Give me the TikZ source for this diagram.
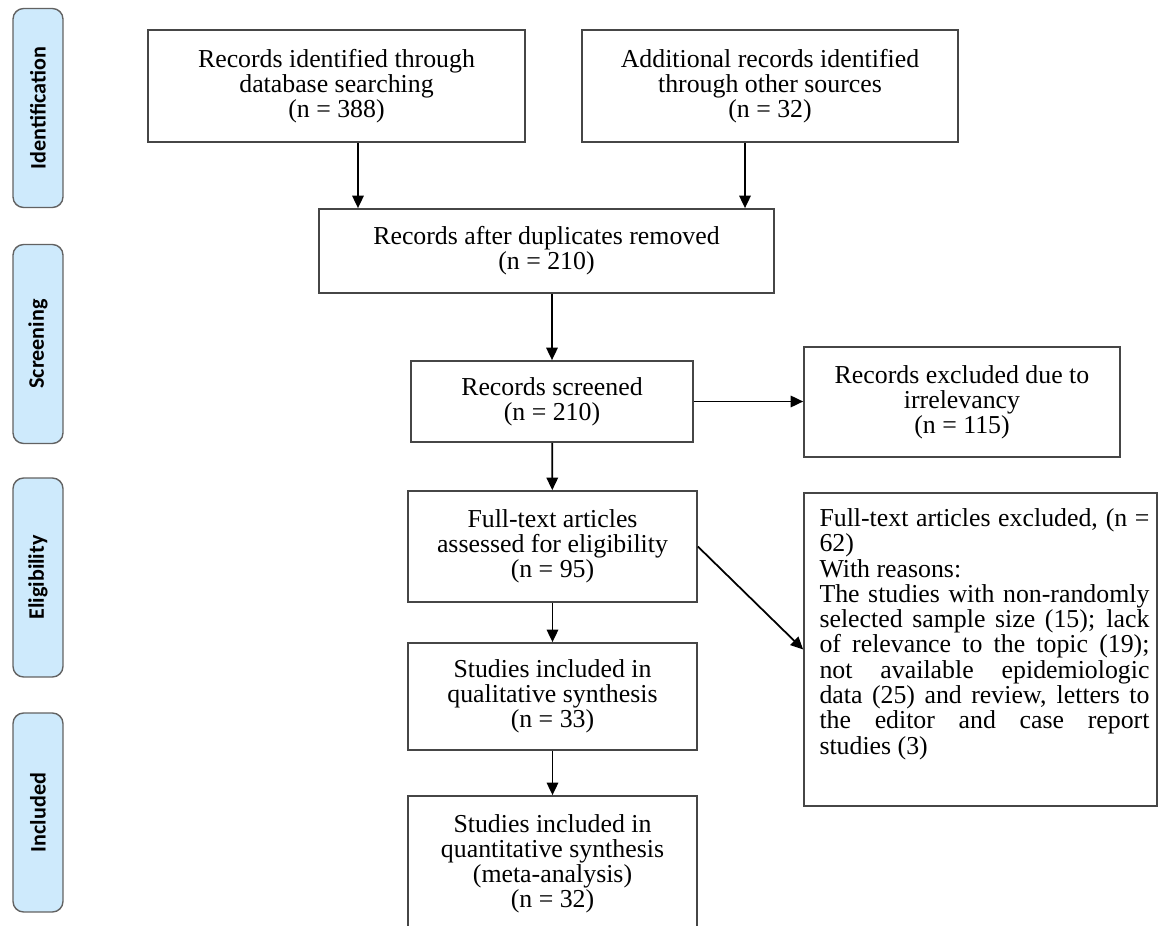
\documentclass[tikz,border=0pt]{standalone}
\usepackage{fontspec}
\setmainfont{Liberation Serif}
\newfontfamily\phasefont{Carlito}
\usetikzlibrary{arrows.meta}
\definecolor{phaseblue}{RGB}{206,234,252}
\definecolor{boxline}{RGB}{70,70,70}
\tikzset{
  box/.style={draw=boxline, line width=1pt, align=center, inner sep=2pt,
    font=\fontsize{14.7}{14.2}\selectfont},
  phase/.style={draw=boxline!85, fill=phaseblue, rounded corners=6pt, rotate=90,
    line width=0.8pt, minimum width=3.98cm, minimum height=1cm,
    font=\phasefont\bfseries\fontsize{12.6}{14}\selectfont},
  reason/.style={align=justify, text width=6.6cm, inner sep=0pt,
    font=\fontsize{14.7}{14.4}\selectfont},
  arr/.style={-{Triangle[length=0.25cm,width=0.23cm]}, line width=1pt},
}
\begin{document}
\begin{tikzpicture}[x=0.02cm,y=-0.02cm]
    \useasboundingbox (0,0) rectangle (1161,926);

    \node[phase] (ident) at (38,108) {Identification};
    \node[phase] (screening) at (38,344) {Screening};
    \node[phase] (elig) at (38,577.5) {Eligibility};
    \node[phase] (incl) at (38,812.5) {Included};

    \node[box, minimum width=7.54cm, minimum height=2.24cm] (dbsearch) at (336.5,86)
        {Records identified through\\database searching\\(n = 388)};
    \node[box, minimum width=7.52cm, minimum height=2.24cm] (other) at (770,86)
        {Additional records identified\\through other sources\\(n = 32)};
    \node[box, minimum width=9.1cm, minimum height=1.68cm] (dup) at (546.5,251)
        {Records after duplicates removed\\(n = 210)};
    \node[box, minimum width=5.64cm, minimum height=1.62cm] (screened) at (552,401.5)
        {Records screened\\(n = 210)};
    \node[box, minimum width=6.32cm, minimum height=2.2cm] (irrel) at (962,402)
        {Records excluded due to\\irrelevancy\\(n = 115)};
    \node[box, minimum width=5.78cm, minimum height=2.22cm] (full) at (552.5,546.5)
        {Full-text articles\\assessed for eligibility\\(n = 95)};
    \node[box, minimum width=7.06cm, minimum height=6.26cm] (fullexcl) at (980.5,649.5) {};
    \node[reason, anchor=north west] (reasons) at ([xshift=0.32cm,yshift=-0.32cm]fullexcl.north west)
        {Full-text articles excluded, (n =\linebreak 62)\\With reasons:\\The studies with non-randomly\linebreak
         selected sample size (15); lack\linebreak of relevance to the topic (19);\linebreak
         not available epidemiologic\linebreak data (25) and review, letters to\linebreak
         the editor and case report\linebreak studies (3)};
    \node[box, minimum width=5.78cm, minimum height=2.14cm] (qual) at (552.5,696.5)
        {Studies included in\\qualitative synthesis\\(n = 33)};
    \node[box, minimum width=5.78cm, minimum height=2.72cm] (quant) at (552.5,864)
        {Studies included in\\quantitative synthesis\\(meta-analysis)\\(n = 32)};

    \draw[arr] ([xshift=0.43cm]dbsearch.south) -- ([xshift=0.43cm]dbsearch.south |- dup.north);
    \draw[arr] ([xshift=-0.5cm]other.south) -- ([xshift=-0.5cm]other.south |- dup.north);
    \draw[arr] (dup.south -| screened) -- (screened.north);
    \draw[arr] (screened.east) -- (screened.east -| irrel.west);
    \draw[arr] (screened) -- (full);
    \draw[arr] (full.east) -- (fullexcl.west);
    \draw[arr] (full) -- (qual);
    \draw[arr] (qual) -- (quant);
\end{tikzpicture}
\end{document}
